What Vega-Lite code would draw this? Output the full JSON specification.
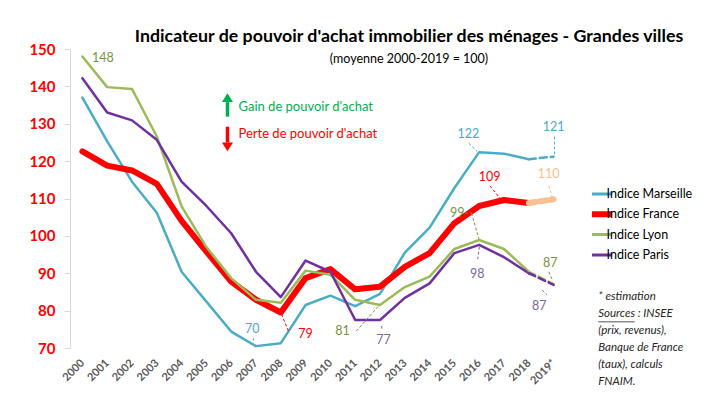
{
  "$schema": "https://vega.github.io/schema/vega-lite/v6.json",
  "width": 496,
  "height": 299,
  "autosize": {"type": "none"},
  "padding": {"left": 70, "top": 49, "right": 154, "bottom": 57},
  "background": "white",
  "config": {"font": "Lato", "view": {"stroke": null}, "axis": {"labelOverlap": false, "labelFlush": false}},
  "title": {
    "text": "Indicateur de pouvoir d'achat immobilier des ménages - Grandes villes",
    "subtitle": "(moyenne 2000-2019 = 100)",
    "font": "Lato", "subtitleFont": "Lato",
    "fontSize": 17.8, "fontWeight": "bold", "color": "#000000",
    "subtitleFontSize": 12.5, "subtitleColor": "#000000", "subtitlePadding": 7,
    "anchor": "middle", "dx": 91, "offset": -23
  },
  "datasets": {
    "indices": [
      {"annee": 2000, "serie": "Indice Marseille", "valeur": 137.0},
      {"annee": 2001, "serie": "Indice Marseille", "valeur": 125.3},
      {"annee": 2002, "serie": "Indice Marseille", "valeur": 114.5},
      {"annee": 2003, "serie": "Indice Marseille", "valeur": 106.2},
      {"annee": 2004, "serie": "Indice Marseille", "valeur": 90.4},
      {"annee": 2005, "serie": "Indice Marseille", "valeur": 82.4},
      {"annee": 2006, "serie": "Indice Marseille", "valeur": 74.4},
      {"annee": 2007, "serie": "Indice Marseille", "valeur": 70.5},
      {"annee": 2008, "serie": "Indice Marseille", "valeur": 71.3},
      {"annee": 2009, "serie": "Indice Marseille", "valeur": 81.5},
      {"annee": 2010, "serie": "Indice Marseille", "valeur": 84.0},
      {"annee": 2011, "serie": "Indice Marseille", "valeur": 81.2},
      {"annee": 2012, "serie": "Indice Marseille", "valeur": 84.5},
      {"annee": 2013, "serie": "Indice Marseille", "valeur": 95.5},
      {"annee": 2014, "serie": "Indice Marseille", "valeur": 102.2},
      {"annee": 2015, "serie": "Indice Marseille", "valeur": 112.8},
      {"annee": 2016, "serie": "Indice Marseille", "valeur": 122.4},
      {"annee": 2017, "serie": "Indice Marseille", "valeur": 122.0},
      {"annee": 2018, "serie": "Indice Marseille", "valeur": 120.5},
      {"annee": 2019, "serie": "Indice Marseille", "valeur": 121.2},
      {"annee": 2000, "serie": "Indice France", "valeur": 122.6},
      {"annee": 2001, "serie": "Indice France", "valeur": 118.8},
      {"annee": 2002, "serie": "Indice France", "valeur": 117.5},
      {"annee": 2003, "serie": "Indice France", "valeur": 113.9},
      {"annee": 2004, "serie": "Indice France", "valeur": 104.0},
      {"annee": 2005, "serie": "Indice France", "valeur": 95.8},
      {"annee": 2006, "serie": "Indice France", "valeur": 87.8},
      {"annee": 2007, "serie": "Indice France", "valeur": 82.9},
      {"annee": 2008, "serie": "Indice France", "valeur": 79.5},
      {"annee": 2009, "serie": "Indice France", "valeur": 88.7},
      {"annee": 2010, "serie": "Indice France", "valeur": 91.1},
      {"annee": 2011, "serie": "Indice France", "valeur": 85.7},
      {"annee": 2012, "serie": "Indice France", "valeur": 86.4},
      {"annee": 2013, "serie": "Indice France", "valeur": 91.7},
      {"annee": 2014, "serie": "Indice France", "valeur": 95.4},
      {"annee": 2015, "serie": "Indice France", "valeur": 103.4},
      {"annee": 2016, "serie": "Indice France", "valeur": 108.0},
      {"annee": 2017, "serie": "Indice France", "valeur": 109.6},
      {"annee": 2018, "serie": "Indice France", "valeur": 108.8},
      {"annee": 2019, "serie": "Indice France", "valeur": 109.8},
      {"annee": 2000, "serie": "Indice Lyon", "valeur": 148.0},
      {"annee": 2001, "serie": "Indice Lyon", "valeur": 139.8},
      {"annee": 2002, "serie": "Indice Lyon", "valeur": 139.3},
      {"annee": 2003, "serie": "Indice Lyon", "valeur": 126.6},
      {"annee": 2004, "serie": "Indice Lyon", "valeur": 107.9},
      {"annee": 2005, "serie": "Indice Lyon", "valeur": 97.0},
      {"annee": 2006, "serie": "Indice Lyon", "valeur": 88.7},
      {"annee": 2007, "serie": "Indice Lyon", "valeur": 82.9},
      {"annee": 2008, "serie": "Indice Lyon", "valeur": 82.1},
      {"annee": 2009, "serie": "Indice Lyon", "valeur": 90.7},
      {"annee": 2010, "serie": "Indice Lyon", "valeur": 89.6},
      {"annee": 2011, "serie": "Indice Lyon", "valeur": 82.9},
      {"annee": 2012, "serie": "Indice Lyon", "valeur": 81.5},
      {"annee": 2013, "serie": "Indice Lyon", "valeur": 86.3},
      {"annee": 2014, "serie": "Indice Lyon", "valeur": 89.1},
      {"annee": 2015, "serie": "Indice Lyon", "valeur": 96.5},
      {"annee": 2016, "serie": "Indice Lyon", "valeur": 98.9},
      {"annee": 2017, "serie": "Indice Lyon", "valeur": 96.5},
      {"annee": 2018, "serie": "Indice Lyon", "valeur": 90.4},
      {"annee": 2019, "serie": "Indice Lyon", "valeur": 87.1},
      {"annee": 2000, "serie": "Indice Paris", "valeur": 142.2},
      {"annee": 2001, "serie": "Indice Paris", "valeur": 133.0},
      {"annee": 2002, "serie": "Indice Paris", "valeur": 130.9},
      {"annee": 2003, "serie": "Indice Paris", "valeur": 125.7},
      {"annee": 2004, "serie": "Indice Paris", "valeur": 114.5},
      {"annee": 2005, "serie": "Indice Paris", "valeur": 108.0},
      {"annee": 2006, "serie": "Indice Paris", "valeur": 100.7},
      {"annee": 2007, "serie": "Indice Paris", "valeur": 90.4},
      {"annee": 2008, "serie": "Indice Paris", "valeur": 83.6},
      {"annee": 2009, "serie": "Indice Paris", "valeur": 93.4},
      {"annee": 2010, "serie": "Indice Paris", "valeur": 90.4},
      {"annee": 2011, "serie": "Indice Paris", "valeur": 77.5},
      {"annee": 2012, "serie": "Indice Paris", "valeur": 77.5},
      {"annee": 2013, "serie": "Indice Paris", "valeur": 83.4},
      {"annee": 2014, "serie": "Indice Paris", "valeur": 87.3},
      {"annee": 2015, "serie": "Indice Paris", "valeur": 95.4},
      {"annee": 2016, "serie": "Indice Paris", "valeur": 97.6},
      {"annee": 2017, "serie": "Indice Paris", "valeur": 94.3},
      {"annee": 2018, "serie": "Indice Paris", "valeur": 90.0},
      {"annee": 2019, "serie": "Indice Paris", "valeur": 86.9}
    ],
    "etiquettes": [
      {"serie": "Lyon", "x": 2000.83, "y": 147.5, "texte": "148"},
      {"serie": "Marseille", "x": 2006.85, "y": 75.1, "texte": "70"},
      {"serie": "France", "x": 2009.0, "y": 73.7, "texte": "79"},
      {"serie": "Lyon", "x": 2010.49, "y": 74.5, "texte": "81"},
      {"serie": "Paris", "x": 2012.14, "y": 72.1, "texte": "77"},
      {"serie": "Marseille", "x": 2015.56, "y": 127.2, "texte": "122"},
      {"serie": "France", "x": 2016.42, "y": 115.7, "texte": "109"},
      {"serie": "France (estimation)", "x": 2018.8, "y": 116.5, "texte": "110"},
      {"serie": "Marseille", "x": 2019.0, "y": 129.0, "texte": "121"},
      {"serie": "Lyon", "x": 2015.11, "y": 106.1, "texte": "99"},
      {"serie": "Paris", "x": 2015.92, "y": 89.8, "texte": "98"},
      {"serie": "Lyon", "x": 2018.86, "y": 92.7, "texte": "87"},
      {"serie": "Paris", "x": 2018.42, "y": 81.2, "texte": "87"}
    ],
    "traits": [
      {"serie": "Marseille", "x1": 2006.9, "y1": 72.6, "x2": 2006.9, "y2": 72.0},
      {"serie": "France", "x1": 2008.03, "y1": 79.0, "x2": 2008.33, "y2": 74.2},
      {"serie": "Lyon", "x1": 2011.04, "y1": 74.5, "x2": 2011.99, "y2": 81.6},
      {"serie": "Paris", "x1": 2012.07, "y1": 75.9, "x2": 2012.07, "y2": 75.2},
      {"serie": "Marseille", "x1": 2015.58, "y1": 124.8, "x2": 2015.92, "y2": 122.6},
      {"serie": "France", "x1": 2016.43, "y1": 113.4, "x2": 2016.83, "y2": 110.1},
      {"serie": "France (estimation)", "x1": 2018.81, "y1": 113.4, "x2": 2018.94, "y2": 110.3},
      {"serie": "Marseille", "x1": 2019.04, "y1": 126.6, "x2": 2019.04, "y2": 121.4},
      {"serie": "Lyon", "x1": 2015.42, "y1": 106.1, "x2": 2015.69, "y2": 106.1},
      {"serie": "Lyon", "x1": 2015.69, "y1": 106.1, "x2": 2015.99, "y2": 99.2},
      {"serie": "Paris", "x1": 2016.01, "y1": 97.1, "x2": 2015.94, "y2": 93.8},
      {"serie": "Lyon", "x1": 2018.81, "y1": 90.4, "x2": 2018.97, "y2": 87.9},
      {"serie": "Paris", "x1": 2018.54, "y1": 85.5, "x2": 2018.74, "y2": 84.2}
    ],
    "fleches": [
      {"sens": "gain", "x": 2005.85, "de": 131.9, "a": 135.8, "tete": 137.0, "texte": "Gain de pouvoir d'achat", "ty": 134.6},
      {"sens": "perte", "x": 2005.85, "de": 129.2, "a": 125.0, "tete": 123.8, "texte": "Perte de pouvoir d'achat", "ty": 127.3}
    ],
    "notes": [
      {"x": 2020.8, "y": 85.3, "texte": "* estimation\nSources : INSEE\n(prix, revenus),\nBanque de France\n(taux), calculs\nFNAIM."}
    ],
    "souligne": [
      {"x1": 2020.8, "x2": 2022.27, "y": 77.0}
    ]
  },
  "layer": [
    {
      "mark": {"type": "rule", "strokeDash": [5, 4], "color": "#000000", "strokeWidth": 1.3},
      "encoding": {
        "y": {
          "datum": 100, "type": "quantitative",
          "scale": {"domain": [70, 150], "nice": false, "zero": false},
          "axis": {
            "values": [70, 80, 90, 100, 110, 120, 130, 140, 150], "tickCount": 40,
            "grid": false, "domainColor": "#D9D9D9", "tickColor": "#D9D9D9", "tickSize": 6,
            "labelColor": "#FF0000", "labelFontWeight": "bold", "labelFontSize": 15,
            "labelPadding": 9, "labelFlush": false, "labelOverlap": false, "title": null
          }
        }
      }
    },
    {
      "data": {"name": "indices"},
      "transform": [{"filter": "datum.annee <= 2018"}],
      "mark": {"type": "line", "strokeJoin": "round", "strokeCap": "round"},
      "encoding": {
        "x": {
          "field": "annee", "type": "quantitative",
          "scale": {"domain": [1999.5, 2019.5], "nice": false, "zero": false},
          "axis": {
            "values": [2000, 2001, 2002, 2003, 2004, 2005, 2006, 2007, 2008, 2009, 2010, 2011, 2012, 2013, 2014, 2015, 2016, 2017, 2018, 2019],
            "tickCount": 40,
            "format": "d",
            "labelExpr": "datum.value == 2019 ? '2019*' : datum.label",
            "labelAngle": -45, "labelAlign": "right", "labelBaseline": "middle",
            "labelFontWeight": "bold", "labelFontSize": 11, "labelColor": "#595959",
            "labelPadding": 13, "labelOverlap": false, "labelFlush": false,
            "ticks": false, "domain": false, "grid": false, "title": null
          }
        },
        "y": {"field": "valeur", "type": "quantitative"},
        "color": {
          "field": "serie", "type": "nominal",
          "scale": {"domain": ["Indice Marseille", "Indice France", "Indice Lyon", "Indice Paris"], "range": ["#4BACC6", "#FF0000", "#9BBB59", "#7030A0"]},
          "legend": {
            "orient": "none", "legendX": 522, "legendY": 135, "title": null,
            "symbolType": "M-1.4,0L1.4,0", "symbolSize": 400, "symbolStrokeWidth": 3,
            "labelFontSize": 12.5, "labelColor": "#000000", "labelOffset": 2,
            "rowPadding": 0.3, "padding": 0, "clipHeight": 20, "gridAlign": "all",
            "encode": {"symbols": {"update": {"strokeWidth": {"signal": "datum.value === 'Indice France' ? 6 : 3"}}}}
          }
        },
        "strokeWidth": {"condition": {"test": "datum.serie === 'Indice France'", "value": 6}, "value": 2.5}
      }
    },
    {
      "data": {"name": "indices"},
      "transform": [{"filter": "datum.annee >= 2018"}],
      "mark": {"type": "line", "strokeDash": [7, 4], "strokeCap": "round"},
      "encoding": {
        "x": {"field": "annee", "type": "quantitative"},
        "y": {"field": "valeur", "type": "quantitative"},
        "color": {
          "field": "serie", "type": "nominal",
          "scale": {"domain": ["Indice Marseille", "Indice France", "Indice Lyon", "Indice Paris"], "range": ["#4BACC6", "#FAC090", "#9BBB59", "#7030A0"]},
          "legend": null
        },
        "strokeWidth": {"condition": {"test": "datum.serie === 'Indice France'", "value": 6}, "value": 2.5}
      }
    },
    {
      "data": {"name": "traits"},
      "mark": {"type": "rule", "strokeDash": [3, 2], "strokeWidth": 1},
      "encoding": {
        "x": {"field": "x1", "type": "quantitative"},
        "x2": {"field": "x2"},
        "y": {"field": "y1", "type": "quantitative"},
        "y2": {"field": "y2"},
        "color": {
          "field": "serie", "type": "nominal",
          "scale": {"domain": ["Marseille", "France", "Lyon", "Paris", "France (estimation)"], "range": ["#4BACC6", "#FF0000", "#77933C", "#8064A2", "#FAC090"]},
          "legend": null
        }
      }
    },
    {
      "data": {"name": "etiquettes"},
      "mark": {"type": "text", "fontSize": 12.5, "align": "center", "baseline": "middle"},
      "encoding": {
        "x": {"field": "x", "type": "quantitative"},
        "y": {"field": "y", "type": "quantitative"},
        "text": {"field": "texte"},
        "color": {
          "field": "serie", "type": "nominal",
          "scale": {"domain": ["Marseille", "France", "Lyon", "Paris", "France (estimation)"], "range": ["#4BACC6", "#FF0000", "#77933C", "#8064A2", "#FAC090"]},
          "legend": null
        }
      }
    },
    {
      "data": {"name": "fleches"},
      "mark": {"type": "rule", "strokeWidth": 3.5},
      "encoding": {
        "x": {"field": "x", "type": "quantitative"},
        "y": {"field": "de", "type": "quantitative"},
        "y2": {"field": "a"},
        "color": {"field": "sens", "type": "nominal", "scale": {"domain": ["gain", "perte"], "range": ["#00B050", "#FF0000"]}, "legend": null}
      }
    },
    {
      "data": {"name": "fleches"},
      "mark": {"type": "point", "filled": true, "opacity": 1, "size": 121},
      "encoding": {
        "x": {"field": "x", "type": "quantitative"},
        "y": {"field": "tete", "type": "quantitative"},
        "shape": {"field": "sens", "type": "nominal", "scale": {"domain": ["gain", "perte"], "range": ["M-1,0.8L1,0.8L0,-0.8Z", "M-1,-0.8L1,-0.8L0,0.8Z"]}, "legend": null},
        "color": {"field": "sens", "type": "nominal", "scale": {"domain": ["gain", "perte"], "range": ["#00B050", "#FF0000"]}, "legend": null}
      }
    },
    {
      "data": {"name": "fleches"},
      "mark": {"type": "text", "fontSize": 13, "align": "left", "baseline": "middle", "dx": 11},
      "encoding": {
        "x": {"field": "x", "type": "quantitative"},
        "y": {"field": "ty", "type": "quantitative"},
        "text": {"field": "texte"},
        "color": {"field": "sens", "type": "nominal", "scale": {"domain": ["gain", "perte"], "range": ["#00B050", "#FF0000"]}, "legend": null}
      }
    },
    {
      "data": {"name": "notes"},
      "mark": {"type": "text", "fontSize": 11.5, "fontStyle": "italic", "align": "left", "baseline": "top", "lineBreak": "\n", "lineHeight": 17, "color": "#262626"},
      "encoding": {
        "x": {"field": "x", "type": "quantitative"},
        "y": {"field": "y", "type": "quantitative"},
        "text": {"field": "texte"}
      }
    },
    {
      "data": {"name": "souligne"},
      "mark": {"type": "rule", "strokeWidth": 0.8, "color": "#262626"},
      "encoding": {
        "x": {"field": "x1", "type": "quantitative"},
        "x2": {"field": "x2"},
        "y": {"field": "y", "type": "quantitative"}
      }
    }
  ],
  "resolve": {"scale": {"color": "independent", "shape": "independent"}}
}
